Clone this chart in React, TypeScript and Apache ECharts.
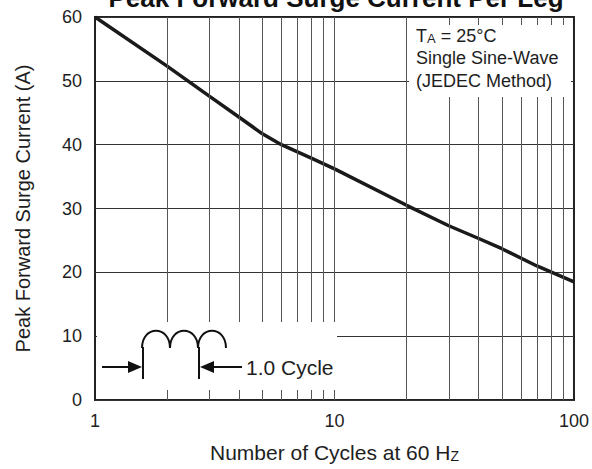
import React, { useEffect, useRef } from "react";
import * as echarts from "echarts";

const cycles = [1, 2, 3, 4, 5, 6, 8, 10, 20, 30, 40, 50, 70, 100];
const current = [60, 52.3, 47.6, 44.3, 41.7, 40, 37.9, 36.2, 30.5, 27.3, 25.3, 23.7, 21.0, 18.5];
const yTicks = [0, 10, 20, 30, 40, 50, 60];
const xGridValues = [2, 3, 4, 5, 6, 7, 8, 9, 10, 20, 30, 40, 50, 60, 70, 80, 90];
const titleText = "Peak Forward Surge Current Per Leg";
const yName = "Peak Forward Surge Current (A)";
const xNameMain = "Number of Cycles at 60 H";
const xNameSub = "Z";
const noteLines = ["Single Sine-Wave", "(JEDEC Method)"];

const FONT = "'Liberation Sans', Arial, Helvetica, sans-serif";
const TXT = "#1e1e1e";

export default function App() {
  const ref = useRef<HTMLDivElement>(null);
  useEffect(() => {
    if (!ref.current) return;
    const chart = echarts.init(ref.current, undefined, { renderer: "svg" });
    const hump = (x0: number) => ({
      type: "bezierCurve",
      z: 110,
      shape: { x1: x0, y1: 348, cpx1: x0, cpy1: 325, cpx2: x0 + 28, cpy2: 325, x2: x0 + 28, y2: 348 },
      style: { stroke: "#111", lineWidth: 2, fill: null },
    });
    chart.setOption({
      animation: false,
      textStyle: { fontFamily: FONT },
      grid: { left: 95, right: 17, top: 17, bottom: 69, show: true, borderColor: "#222", borderWidth: 2, backgroundColor: "#fff" },
      xAxis: {
        type: "log",
        logBase: 10,
        min: 1,
        max: 100,
        axisLine: { show: false },
        axisTick: { show: false },
        splitLine: { show: false },
        minorTick: { show: false },
        axisLabel: { fontSize: 18, color: TXT, margin: 12, fontFamily: FONT, formatter: (v: number) => String(v) },
        name: `{m|${xNameMain}}{s|${xNameSub}}`,
        nameLocation: "middle",
        nameGap: 42,
        nameTextStyle: {
          rich: {
            m: { fontSize: 21, color: TXT, fontFamily: FONT },
            s: { fontSize: 14, color: TXT, fontFamily: FONT, verticalAlign: "bottom", padding: [6, 0, 0, 0] },
          },
        },
      },
      yAxis: {
        type: "value",
        min: yTicks[0],
        max: yTicks[yTicks.length - 1],
        interval: 10,
        axisLine: { show: false },
        axisTick: { show: false },
        splitLine: { show: true, lineStyle: { color: "#333", width: 1 } },
        axisLabel: { fontSize: 18, color: TXT, margin: 13, fontFamily: FONT },
        name: yName,
        nameLocation: "middle",
        nameGap: 62,
        nameRotate: 90,
        nameTextStyle: { fontSize: 20, color: TXT, fontFamily: FONT },
      },
      series: [
        {
          type: "line",
          z: 1,
          data: [],
          silent: true,
          markLine: {
            silent: true,
            symbol: "none",
            label: { show: false },
            lineStyle: { color: "#555", width: 1, type: "solid" },
            data: xGridValues.map((v) => ({ xAxis: v })),
          },
        },
        {
          type: "line",
          z: 3,
          data: cycles.map((c, i) => [c, current[i]]),
          symbol: "none",
          smooth: false,
          lineStyle: { color: "#1a1a1a", width: 3.5 },
        },
      ],
      graphic: [
        { type: "rect", z: 100, shape: { x: 409, y: 25, width: 162, height: 72 }, style: { fill: "#fff" } },
        { type: "rect", z: 100, shape: { x: 97, y: 322, width: 240, height: 68 }, style: { fill: "#fff" } },
        {
          type: "text",
          z: 110,
          x: 336,
          y: -2,
          style: { text: titleText, font: `bold 26px ${FONT}`, fill: "#111", textAlign: "center", align: "center", textVerticalAlign: "middle", verticalAlign: "middle" },
        },
        {
          type: "text",
          z: 110,
          x: 416,
          y: 36,
          style: {
            text: "{m|T}{s|A}{m| = 25°C}",
            textVerticalAlign: "middle",
            verticalAlign: "middle",
            rich: {
              m: { fontSize: 18, fill: TXT, fontFamily: FONT },
              s: { fontSize: 13, fill: TXT, fontFamily: FONT, verticalAlign: "bottom", padding: [5, 0, 0, 0] },
            },
          },
        },
        ...noteLines.map((t, i) => ({
          type: "text",
          z: 110,
          x: 416,
          y: 58 + i * 22.5,
          style: { text: t, font: `18px ${FONT}`, fill: TXT, textVerticalAlign: "middle", verticalAlign: "middle" },
        })),
        hump(142),
        hump(170),
        hump(198),
        { type: "line", z: 110, shape: { x1: 143, y1: 347, x2: 143, y2: 379 }, style: { stroke: "#111", lineWidth: 2 } },
        { type: "line", z: 110, shape: { x1: 199, y1: 347, x2: 199, y2: 379 }, style: { stroke: "#111", lineWidth: 2 } },
        { type: "line", z: 110, shape: { x1: 102, y1: 367, x2: 132, y2: 367 }, style: { stroke: "#111", lineWidth: 2 } },
        { type: "polygon", z: 110, shape: { points: [[128, 361], [142, 367], [128, 373]] }, style: { fill: "#111" } },
        { type: "line", z: 110, shape: { x1: 210, y1: 367, x2: 242, y2: 367 }, style: { stroke: "#111", lineWidth: 2 } },
        { type: "polygon", z: 110, shape: { points: [[200, 367], [214, 361], [214, 373]] }, style: { fill: "#111" } },
        {
          type: "text",
          z: 110,
          x: 246,
          y: 367,
          style: { text: "1.0 Cycle", font: `21px ${FONT}`, fill: TXT, textVerticalAlign: "middle", verticalAlign: "middle" },
        },
      ],
    });
    return () => chart.dispose();
  }, []);
  return <div ref={ref} style={{ position: "absolute", left: 0, top: 0, width: 592, height: 469, background: "#fff" }} />;
}
